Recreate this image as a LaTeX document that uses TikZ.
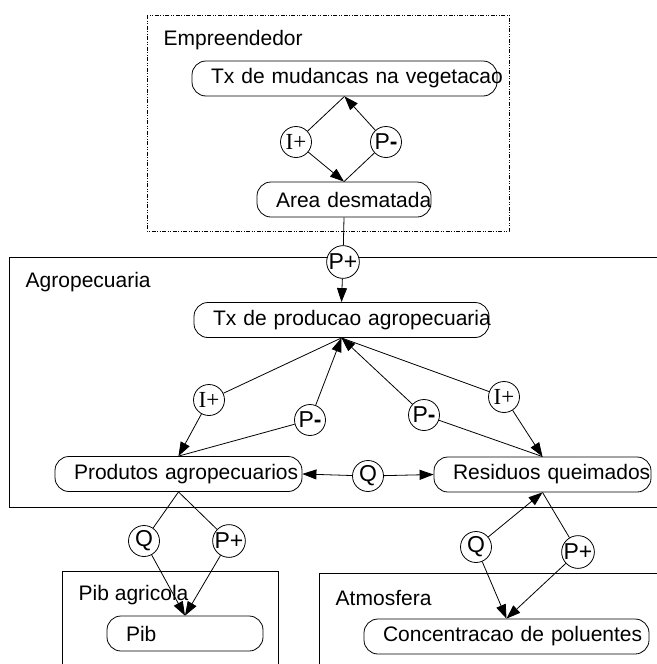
\documentclass[tikz,border=0pt]{standalone}
\usepackage{fontspec}
\setmainfont{Liberation Sans}
\newfontfamily\serifrm{Liberation Serif}
\usepackage{tikz}
\usetikzlibrary{arrows.meta}

\begin{document}
\begin{tikzpicture}[x=1pt,y=-1pt,line width=0.8pt,
	every node/.style={font=\fontsize{21}{24}\selectfont},
	estado/.style={draw, fill=white, rounded corners=14pt, minimum height=35pt, inner xsep=19pt, inner ysep=0pt, align=left},
	sinal/.style={draw, fill=white, circle, minimum size=31pt, inner sep=0pt, font=\fontsize{23}{25}\selectfont},
	rotulo/.style={anchor=west},
	seta/.style={-{Triangle[length=14pt,width=10pt]}}]
	\useasboundingbox (0,0) rectangle (656,664);
	% subsistemas
	\draw[dash pattern=on 4pt off 1.5pt on 1pt off 1.5pt on 1pt off 1.5pt] (147,15) rectangle (509,231);
	\draw (9,257) rectangle (660,507);
	\draw (62,571) rectangle (278,670);
	\draw (319,573) rectangle (660,670);
	\node[rotulo] (lemp) at (160,40) {Empreendedor};
	\node[rotulo] (lagr) at (22,282) {Agropecuaria};
	\node[rotulo] (lpib) at (75,595) {Pib agricola};
	\node[rotulo] (latm) at (332,598) {Atmosfera};
	% estados
	\node[estado, text width=267pt] (mud) at (344.5,78.5) {\mbox{Tx de mudancas na vegetacao}};
	\node[estado, text width=136pt] (area) at (344,199.5) {\mbox{Area desmatada}};
	\node[estado, text width=257pt] (prod) at (341.5,320) {\mbox{Tx de producao agropecuaria}};
	\node[estado, text width=209pt] (agro) at (178.5,474) {\mbox{Produtos agropecuarios}};
	\node[estado, text width=179pt] (resid) at (542.5,474.5) {\mbox{Residuos queimados}};
	\node[estado, text width=118pt] (pib) at (185,633.5) {Pib};
	\node[estado, text width=247pt] (conc) at (506.5,636.5) {\mbox{Concentracao de poluentes}};
	% influencias e proporcionalidades
	\node[sinal] (i1) at (296,142) {\serifrm I+};
	\node[sinal] (p1) at (386,142) {P\textbf{-}};
	\node[sinal] (p2) at (343,262) {P+};
	\node[sinal] (i2) at (209,400) {\serifrm I+};
	\node[sinal] (m2) at (310,420) {P\textbf{-}};
	\node[sinal] (m3) at (424,415) {P\textbf{-}};
	\node[sinal] (i3) at (504,397) {\serifrm I+};
	\node[sinal] (q1) at (368,476) {Q};
	\node[sinal] (q2) at (144,541) {Q};
	\node[sinal] (p3) at (229,541) {P+};
	\node[sinal] (q3) at (476,547) {Q};
	\node[sinal] (p4) at (578,552) {P+};
	% ligacoes
	\draw (mud.south) -- (i1);
	\draw[seta] (i1) -- (area.north);
	\draw (area.north) -- (p1);
	\draw[seta] (p1) -- (mud.south);
	\draw (area.south) -- (p2);
	\draw[seta] (p2) -- (prod.north);
	\draw (prod.south) -- (i2);
	\draw[seta] (i2) -- (agro.north);
	\draw (agro.north) -- (m2);
	\draw[seta] (m2) -- (prod.south);
	\draw (resid.north) -- (m3);
	\draw[seta] (m3) -- (prod.south);
	\draw (prod.south) -- (i3);
	\draw[seta] (i3) -- (resid.north);
	\draw[seta] (q1) -- (agro.east);
	\draw[seta] (q1) -- (resid.west);
	\draw (agro.south) -- (q2);
	\draw[seta] (q2) -- (pib.north);
	\draw (agro.south) -- (p3);
	\draw[seta] (p3) -- (pib.north);
	\draw[seta] (q3) -- (resid.south);
	\draw[seta] (q3) -- (conc.north);
	\draw (resid.south) -- (p4);
	\draw[seta] (p4) -- (conc.north);
\end{tikzpicture}
\end{document}
